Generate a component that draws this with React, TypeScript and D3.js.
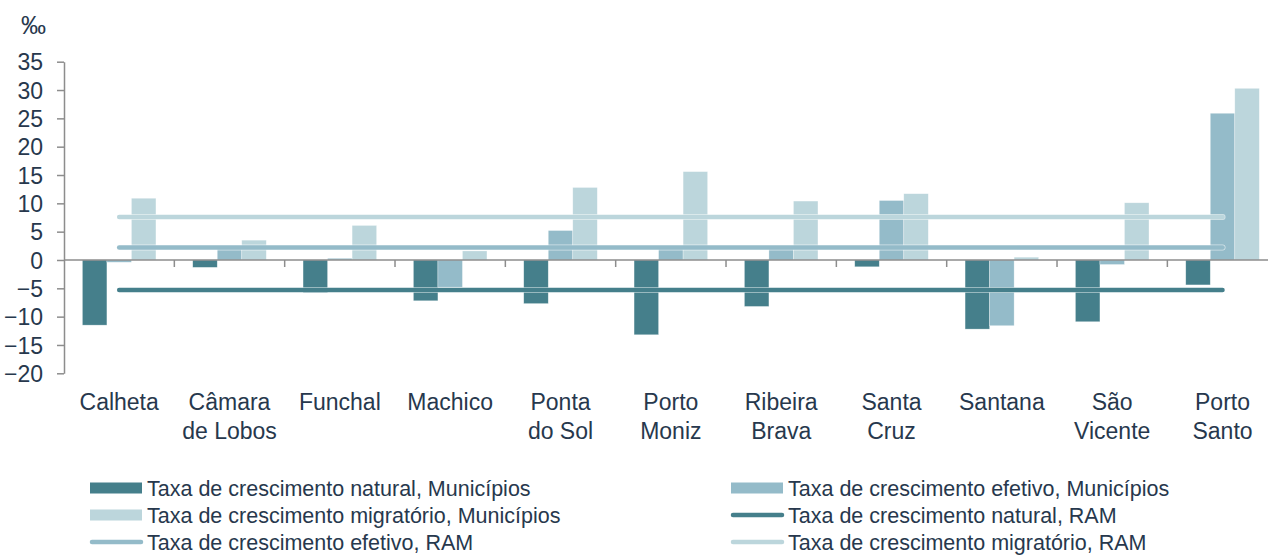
import * as D3 from 'd3'
import { useEffect, useRef } from 'react'

const CATEGORIES = [
  'Calheta',
  'Câmara de Lobos',
  'Funchal',
  'Machico',
  'Ponta do Sol',
  'Porto Moniz',
  'Ribeira Brava',
  'Santa Cruz',
  'Santana',
  'São Vicente',
  'Porto Santo',
]
// label lines under each category
const CATEGORY_LINES = [
  ['Calheta'],
  ['Câmara', 'de Lobos'],
  ['Funchal'],
  ['Machico'],
  ['Ponta', 'do Sol'],
  ['Porto', 'Moniz'],
  ['Ribeira', 'Brava'],
  ['Santa', 'Cruz'],
  ['Santana'],
  ['São', 'Vicente'],
  ['Porto', 'Santo'],
]

const NATURAL = [-11.5, -1.3, -5.8, -7.2, -7.7, -13.2, -8.2, -1.2, -12.2, -10.9, -4.4]
const EFETIVO = [-0.4, 2.4, 0.3, -4.8, 5.2, 2.1, 2.3, 10.5, -11.6, -0.8, 25.9]
const MIGRATORIO = [10.9, 3.5, 6.1, 1.6, 12.8, 15.6, 10.4, 11.7, 0.5, 10.1, 30.3]

const RAM_NATURAL = -5.3
const RAM_EFETIVO = 2.2
const RAM_MIGRATORIO = 7.6

const Y_TICKS = [-20, -15, -10, -5, 0, 5, 10, 15, 20, 25, 30, 35]

const DARK = '#457f8b'
const MID = '#94bbc9'
const LIGHT = '#bcd6dc'
const TEXT = '#27384d'
const AXIS = '#8d8d8d'
const FONT = '"Liberation Sans", Arial, sans-serif'

export default function App() {
  const ref = useRef<HTMLDivElement>(null)

  useEffect(() => {
    const width = 1268
    const height = 555
    const marginLeft = 64
    const plotRight = 1277.7

    const x = D3.scaleBand().domain(CATEGORIES).range([marginLeft, plotRight])
    const bw = x.bandwidth()
    const groupW = bw / 1.5
    const series = D3.scaleBand()
      .domain(['n', 'e', 'm'])
      .range([(bw - groupW) / 2, (bw + groupW) / 2])
    const y = D3.scaleLinear().domain([-20, 35]).range([373.3, 61.7])

    const svg = D3.create('svg')
      .attr('width', width)
      .attr('height', height)
      .attr('viewBox', [0, 0, width, height])
      .attr('style', `position:absolute;left:0;top:0;background:#fff;font-family:${FONT}`)

    /* bars */
    const bars = [
      { key: 'n', values: NATURAL, color: DARK },
      { key: 'e', values: EFETIVO, color: MID },
      { key: 'm', values: MIGRATORIO, color: LIGHT },
    ]
    bars.forEach((s) => {
      svg
        .append('g')
        .attr('fill', s.color)
        .attr('stroke', '#ffffff')
        .attr('stroke-opacity', 0.5)
        .attr('stroke-width', 0.6)
        .selectAll()
        .data(s.values)
        .join('rect')
        .attr('x', (_, i) => (x(CATEGORIES[i]) as number) + (series(s.key) as number))
        .attr('y', (d) => y(Math.max(0, d)))
        .attr('width', series.bandwidth())
        .attr('height', (d) => Math.abs(y(d) - y(0)))
    })

    /* y axis */
    svg
      .append('g')
      .attr('transform', `translate(${marginLeft},0)`)
      .call(D3.axisLeft(y).tickValues(Y_TICKS).tickSize(7).tickSizeOuter(0).tickPadding(14))
      .call((g) => g.selectAll('line, path').attr('stroke', AXIS).attr('stroke-width', 1.5))
      .call((g) =>
        g
          .selectAll('text')
          .attr('fill', TEXT)
          .attr('font-size', 23)
          .attr('font-family', FONT)
          .attr('dy', '0.36em'),
      )

    /* x axis at zero */
    const gx = svg.append('g')
    gx.append('line')
      .attr('x1', marginLeft)
      .attr('x2', plotRight)
      .attr('y1', y(0))
      .attr('y2', y(0))
      .attr('stroke', AXIS)
      .attr('stroke-width', 1.5)
    gx.selectAll('.tk')
      .data(CATEGORIES.slice(1))
      .join('line')
      .attr('x1', (d) => x(d) as number)
      .attr('x2', (d) => x(d) as number)
      .attr('y1', y(0))
      .attr('y2', y(0) + 7)
      .attr('stroke', AXIS)
      .attr('stroke-width', 1.5)

    /* RAM lines */
    const first = (x(CATEGORIES[0]) as number) + bw / 2
    const last = (x(CATEGORIES[CATEGORIES.length - 1]) as number) + bw / 2
    const lines = [
      { v: RAM_NATURAL, color: DARK },
      { v: RAM_EFETIVO, color: MID },
      { v: RAM_MIGRATORIO, color: LIGHT },
    ]
    lines.forEach((l) => {
      svg.append('line')
        .attr('x1', first).attr('x2', last)
        .attr('y1', y(l.v)).attr('y2', y(l.v))
        .attr('stroke', '#ffffff').attr('stroke-opacity', 0.6)
        .attr('stroke-width', 6).attr('stroke-linecap', 'round')
      svg.append('line')
        .attr('x1', first).attr('x2', last)
        .attr('y1', y(l.v)).attr('y2', y(l.v))
        .attr('stroke', l.color)
        .attr('stroke-width', 4.5).attr('stroke-linecap', 'round')
    })

    /* category labels */
    const labels = svg
      .append('g')
      .attr('fill', TEXT)
      .attr('font-size', 23)
      .attr('text-anchor', 'middle')
      .selectAll()
      .data(CATEGORIES)
      .join('text')
      .attr('x', (d) => (x(d) as number) + bw / 2)
      .attr('y', 410)
    labels
      .selectAll('tspan')
      .data((_, i) => CATEGORY_LINES[i])
      .join('tspan')
      .attr('x', function () {
        return (this.parentNode as SVGTextElement).getAttribute('x')
      })
      .attr('dy', (_, i) => (i === 0 ? 0 : 28.5))
      .text((d) => d)

    /* unit */
    svg.append('text')
      .attr('x', 21).attr('y', 34)
      .attr('fill', TEXT).attr('font-size', 25)
      .text('‰')

    /* legend */
    const legend = [
      { label: 'Taxa de crescimento natural, Municípios', color: DARK, type: 'bar' },
      { label: 'Taxa de crescimento efetivo, Municípios', color: MID, type: 'bar' },
      { label: 'Taxa de crescimento migratório, Municípios', color: LIGHT, type: 'bar' },
      { label: 'Taxa de crescimento natural, RAM', color: DARK, type: 'line' },
      { label: 'Taxa de crescimento efetivo, RAM', color: MID, type: 'line' },
      { label: 'Taxa de crescimento migratório, RAM', color: LIGHT, type: 'line' },
    ]
    const colX = [90, 731]
    const rowY = [488, 515, 542]
    const lg = svg.append('g')
      .selectAll()
      .data(legend)
      .join('g')
      .attr('transform', (_, i) => `translate(${colX[i % 2]},${rowY[Math.floor(i / 2)]})`)
    lg.filter((d) => d.type === 'bar')
      .append('rect')
      .attr('x', 0).attr('y', -5.5)
      .attr('width', 52).attr('height', 11)
      .attr('fill', (d) => d.color)
    lg.filter((d) => d.type === 'line')
      .append('line')
      .attr('x1', 2).attr('x2', 51)
      .attr('stroke', (d) => d.color)
      .attr('stroke-width', 4.5)
      .attr('stroke-linecap', 'round')
    lg.append('text')
      .attr('x', 57)
      .attr('dy', '0.35em')
      .attr('fill', TEXT)
      .attr('font-size', 21.5)
      .text((d) => d.label)

    const node = svg.node()
    if (ref.current && node) {
      ref.current.innerHTML = ''
      ref.current.appendChild(node)
    }
  }, [])

  return <div ref={ref} />
}
